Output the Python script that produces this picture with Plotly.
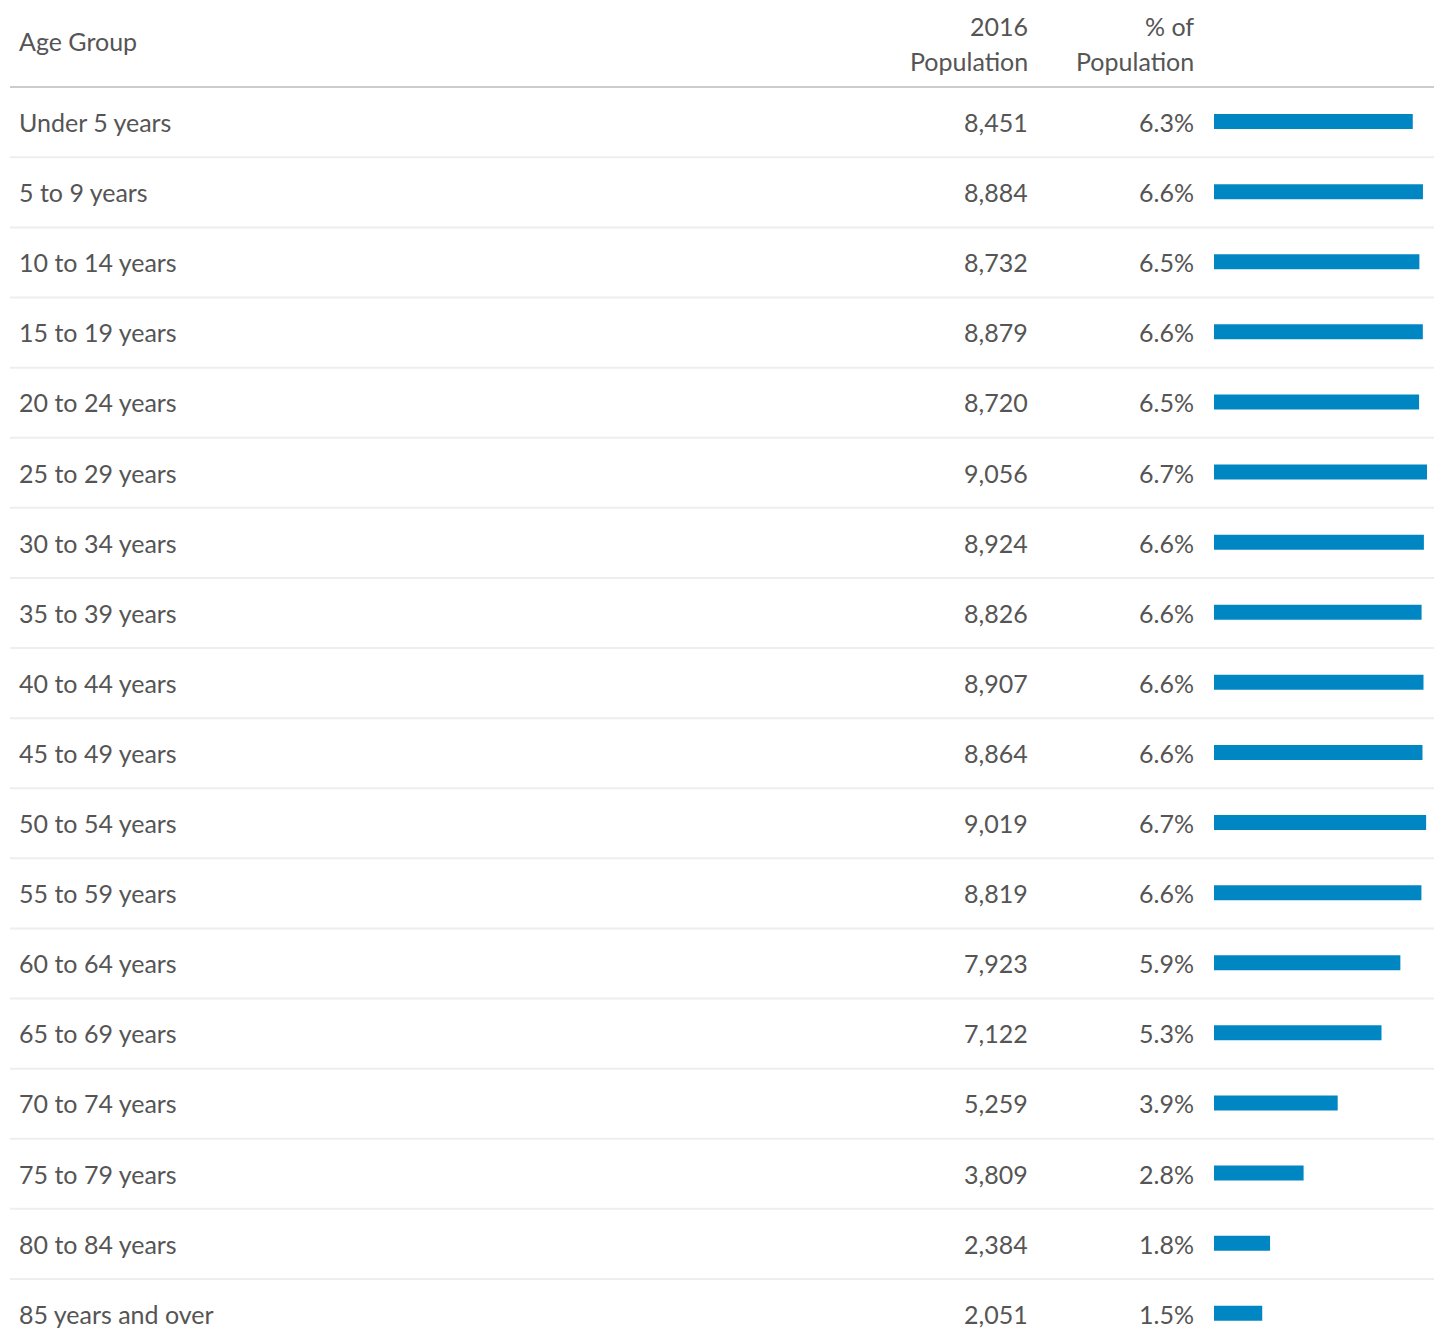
import plotly.graph_objects as go

age_groups = [
    "Under 5 years", "5 to 9 years", "10 to 14 years", "15 to 19 years",
    "20 to 24 years", "25 to 29 years", "30 to 34 years", "35 to 39 years",
    "40 to 44 years", "45 to 49 years", "50 to 54 years", "55 to 59 years",
    "60 to 64 years", "65 to 69 years", "70 to 74 years", "75 to 79 years",
    "80 to 84 years", "85 years and over",
]
population = [8451, 8884, 8732, 8879, 8720, 9056, 8924, 8826, 8907, 8864,
              9019, 8819, 7923, 7122, 5259, 3809, 2384, 2051]
pct_of_population = [6.3, 6.6, 6.5, 6.6, 6.5, 6.7, 6.6, 6.6, 6.6, 6.6,
                     6.7, 6.6, 5.9, 5.3, 3.9, 2.8, 1.8, 1.5]
header_age = "Age Group"
header_pop = ["2016", "Population"]
header_pct = ["% of", "Population"]

W, H = 1434, 1340
PITCH = 70.1
FIRST = 123.0
TEXT_DY = -1.0
TEXT = "#555555"
FONT = "Lato"
FS = 25
BAR = "#0087c3"

def px_to_x(px):
    return px / W

def py_to_row(py):
    return (py - FIRST) / PITCH

rows = list(range(len(age_groups)))

fig = go.Figure()
fig.add_trace(go.Bar(
    x=population, y=rows, orientation="h",
    marker=dict(color=BAR, line=dict(width=0)),
    width=0.214, offset=-0.128,
    hoverinfo="skip",
))

annotations = []
def add_text(text, xpx, y, anchor):
    annotations.append(dict(
        text=text, x=px_to_x(xpx), xref="paper", y=y + TEXT_DY / PITCH, yref="y",
        xanchor=anchor, yanchor="middle", showarrow=False,
        font=dict(family=FONT, size=FS, color=TEXT),
    ))

LEFT_X, POP_X, PCT_X = 17, 1030, 1196

# headers
add_text(header_age, LEFT_X, py_to_row(42), "left")
add_text(header_pop[0], POP_X, py_to_row(27), "right")
add_text(header_pop[1], POP_X, py_to_row(62), "right")
add_text(header_pct[0], PCT_X, py_to_row(27), "right")
add_text(header_pct[1], PCT_X, py_to_row(62), "right")

for i, (lab, pop, pct) in enumerate(zip(age_groups, population, pct_of_population)):
    add_text(lab, LEFT_X, i, "left")
    add_text(f"{pop:,}", POP_X, i, "right")
    add_text(f"{pct:.1f}%", PCT_X, i, "right")

shapes = [dict(type="line", xref="paper", yref="y", x0=px_to_x(10), x1=1,
               y0=py_to_row(87), y1=py_to_row(87),
               line=dict(color="#cccccc", width=2))]
for i in rows[:-1]:
    shapes.append(dict(type="line", xref="paper", yref="y", x0=px_to_x(10), x1=1,
                       y0=i + 0.49, y1=i + 0.49,
                       line=dict(color="#eeeeee", width=2)))

max_pop = max(population)
fig.update_layout(
    width=W, height=H,
    margin=dict(l=0, r=0, t=0, b=0),
    paper_bgcolor="white", plot_bgcolor="white",
    showlegend=False,
    xaxis=dict(domain=[1214 / W, 1], range=[0, max_pop * 220 / 213],
               visible=False, fixedrange=True),
    yaxis=dict(domain=[0, 1], range=[py_to_row(H), py_to_row(0)],
               visible=False, fixedrange=True),
    annotations=annotations,
    shapes=shapes,
)

fig.write_html("out.html", config={"displayModeBar": False},
               post_script="document.body.style.margin='0';document.body.style.overflow='hidden';")
